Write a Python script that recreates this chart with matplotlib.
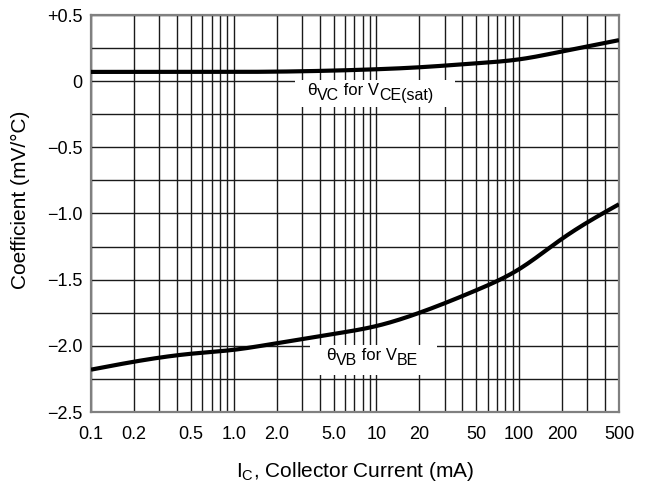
import matplotlib
matplotlib.use("Agg")
import matplotlib.pyplot as plt
import numpy as np
from matplotlib.ticker import FixedLocator, NullFormatter
from matplotlib.patches import Rectangle

plt.rcParams['font.family'] = ['Liberation Sans', 'DejaVu Sans']
plt.rcParams['mathtext.fontset'] = 'custom'
plt.rcParams['mathtext.rm'] = 'Liberation Sans'
plt.rcParams['mathtext.it'] = 'Liberation Sans:italic'

# Data
ic_vc = [0.1, 0.2, 0.5, 1.0, 2.0, 5.0, 10, 20, 50, 100, 200, 500]
theta_vc = [0.07, 0.07, 0.07, 0.07, 0.072, 0.08, 0.09, 0.105, 0.135, 0.165, 0.225, 0.31]

ic_vb = [0.1, 0.2, 0.5, 1.0, 2.0, 5.0, 10, 20, 50, 100, 200, 500]
theta_vb = [-2.18, -2.12, -2.06, -2.03, -1.98, -1.91, -1.85, -1.75, -1.58, -1.42, -1.19, -0.93]

xticks = [0.1, 0.2, 0.5, 1.0, 2.0, 5.0, 10, 20, 50, 100, 200, 500]
xtick_labels = ['0.1', '0.2', '0.5', '1.0', '2.0', '5.0', '10', '20', '50', '100', '200', '500']
yticks = [0.5, 0, -0.5, -1.0, -1.5, -2.0, -2.5]
ytick_labels = ['+0.5', '0', '\u22120.5', '\u22121.0', '\u22121.5', '\u22122.0', '\u22122.5']


def natural_spline(xk, yk, xs):
    xk = np.asarray(xk, float); yk = np.asarray(yk, float)
    n = len(xk)
    h = np.diff(xk)
    A = np.zeros((n, n)); b = np.zeros(n)
    A[0, 0] = 1; A[-1, -1] = 1
    for i in range(1, n - 1):
        A[i, i - 1] = h[i - 1]
        A[i, i] = 2 * (h[i - 1] + h[i])
        A[i, i + 1] = h[i]
        b[i] = 3 * ((yk[i + 1] - yk[i]) / h[i] - (yk[i] - yk[i - 1]) / h[i - 1])
    c = np.linalg.solve(A, b)
    out = np.empty_like(xs)
    for j, x in enumerate(xs):
        i = min(max(np.searchsorted(xk, x) - 1, 0), n - 2)
        dx = x - xk[i]
        bi = (yk[i + 1] - yk[i]) / h[i] - h[i] * (2 * c[i] + c[i + 1]) / 3
        di = (c[i + 1] - c[i]) / (3 * h[i])
        out[j] = yk[i] + bi * dx + c[i] * dx ** 2 + di * dx ** 3
    return out


fig = plt.figure(figsize=(6.46, 4.86), dpi=100)
ax = fig.add_axes([91/646, 1-412/486, (619-91)/646, (412-15)/486])

ax.set_xscale('log')
ax.set_xlim(0.1, 500)
ax.set_ylim(-2.5, 0.5)

minor_x = []
for dec in [0.1, 1, 10, 100]:
    for m in range(1, 10):
        v = dec * m
        if 0.1 <= v <= 500:
            minor_x.append(v)
ax.xaxis.set_major_locator(FixedLocator(xticks))
ax.xaxis.set_minor_locator(FixedLocator(minor_x))
ax.xaxis.set_minor_formatter(NullFormatter())
ax.set_xticklabels(xtick_labels)
ax.set_yticks(yticks)
ax.set_yticklabels(ytick_labels)
ax.yaxis.set_minor_locator(FixedLocator(np.arange(-2.5, 0.51, 0.25)))
ax.grid(True, which='both', axis='both', color='#1a1a1a', linewidth=1.0, zorder=1)
ax.set_axisbelow(True)
ax.tick_params(which='both', length=0, labelsize=13)
ax.tick_params(axis='x', pad=10)
ax.tick_params(axis='y', pad=6)

for s in ax.spines.values():
    s.set_color('#808080')
    s.set_linewidth(1.6)

xs = np.logspace(-1, np.log10(500), 400)
lx = np.log10(xs)
ax.plot(xs, natural_spline(np.log10(ic_vc), theta_vc, lx), color='black', lw=3, zorder=3, solid_capstyle='butt')
ax.plot(xs, natural_spline(np.log10(ic_vb), theta_vb, lx), color='black', lw=3, zorder=3, solid_capstyle='butt')

# white boxes behind curve labels
ax.add_patch(Rectangle((2.69, -0.197), 35.6 - 2.69, 0.207, facecolor='white', edgecolor='none', zorder=2))
ax.add_patch(Rectangle((3.42, -2.222), 26.6 - 3.42, 0.232, facecolor='white', edgecolor='none', zorder=2))


def rich(x, y, pieces):
    # pieces: (text, fontsize, vertical offset in points)
    prev = None
    prev_off = 0
    for s, size, off in pieces:
        if prev is None:
            prev = ax.text(x, y, s, fontsize=size, ha='left', va='bottom', zorder=5)
        else:
            prev = ax.annotate(s, xy=(1, 0), xycoords=prev, xytext=(0, off - prev_off),
                               textcoords='offset points', fontsize=size,
                               ha='left', va='bottom', zorder=5)
        prev_off = off


sub = -3.6
rich(3.27, -0.13, [('\u03b8', 12.5, 0), ('VC', 11.5, sub), (' for V', 12, 0), ('CE(sat)', 11.5, sub)])
rich(4.44, -2.133, [('\u03b8', 12.5, 0), ('VB', 11.5, sub), (' for V', 12, 0), ('BE', 11.5, sub)])

fig.text(355/646, 1-477/486, r'I$_{\mathrm{C}}$, Collector Current (mA)', fontsize=15,
         ha='center', va='baseline')
fig.text(20/646, 1-200/486, 'Coefficient (mV/\u00b0C)', fontsize=15, rotation=90,
         ha='center', va='center')

fig.savefig('out.png', dpi=100)
